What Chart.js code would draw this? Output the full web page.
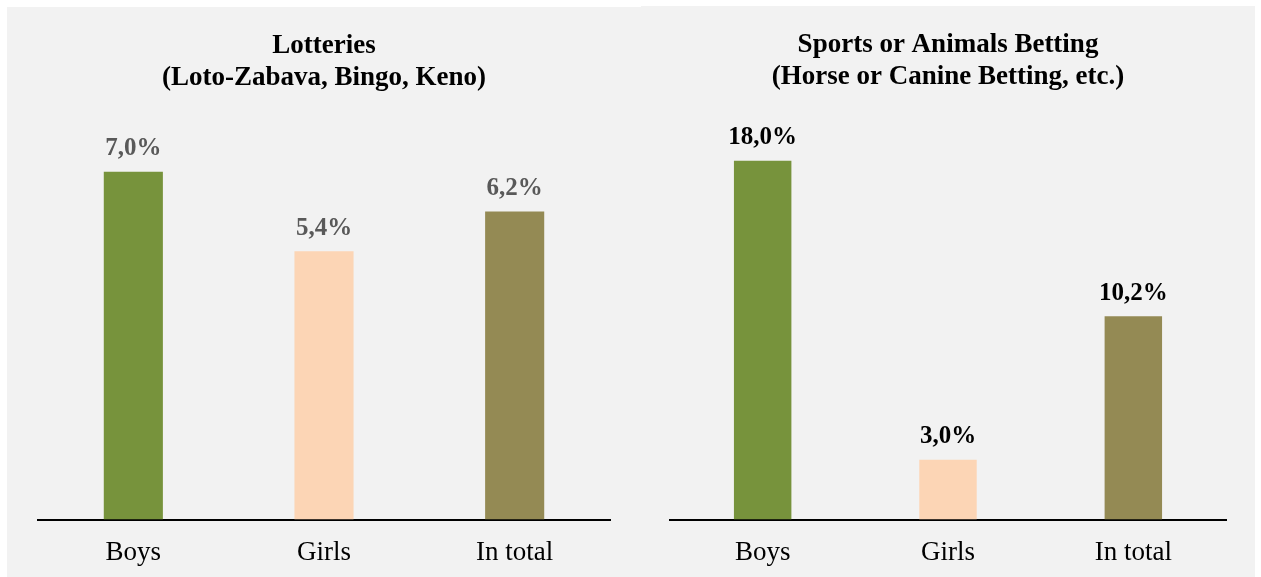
<!DOCTYPE html>
<html>
<head>
<meta charset="utf-8">
<script src="https://cdn.jsdelivr.net/npm/chart.js@4/dist/chart.umd.min.js"></script>
<style>
  body { margin: 0; background: #fff; width: 1261px; height: 577px; position: relative; overflow: hidden; }
  .panel { position: absolute; background: #f2f2f2; overflow: hidden; }
  #p1 { left: 7px; top: 7px; width: 634px; height: 570px; }
  #p2 { left: 641px; top: 6px; width: 614px; height: 571px; }
  canvas { display: block; }
</style>
</head>
<body>
<div class="panel" id="p1"><canvas id="lotteryChart" width="634" height="579"></canvas></div>
<div class="panel" id="p2"><canvas id="bettingChart" width="614" height="580"></canvas></div>
<script>
var categories = ['Boys', 'Girls', 'In total'];
var lotteryValues = [7.0, 5.4, 6.2];
var bettingValues = [18.0, 3.0, 10.2];
var barColors = ['#77933c', '#fcd5b5', '#948a54'];
var serif = '"Liberation Serif", "Times New Roman", serif';

// draws the value above every bar, e.g. "7,0%"
var valueLabels = {
  id: 'valueLabels',
  afterDatasetsDraw: function (chart, args, opts) {
    var ctx = chart.ctx;
    var meta = chart.getDatasetMeta(0);
    var data = chart.data.datasets[0].data;
    ctx.save();
    ctx.font = 'bold 25px ' + serif;
    ctx.fillStyle = opts.color;
    ctx.textAlign = 'center';
    ctx.textBaseline = 'middle';
    meta.data.forEach(function (bar, i) {
      var txt = data[i].toFixed(1).replace('.', ',') + '%';
      ctx.fillText(txt, bar.x, bar.y - 23);
    });
    ctx.restore();
  }
};

function makeChart(id, title, values, yMax, labelColor, pad) {
  return new Chart(document.getElementById(id), {
    type: 'bar',
    data: {
      labels: categories,
      datasets: [{
        data: values,
        backgroundColor: barColors,
        borderWidth: 0,
        categoryPercentage: 1,
        barPercentage: 0.31
      }]
    },
    options: {
      responsive: false,
      animation: false,
      layout: { padding: { left: pad, right: pad, top: 0, bottom: 0 } },
      plugins: {
        legend: { display: false },
        tooltip: { enabled: false },
        title: {
          display: true,
          text: title,
          color: '#000',
          font: { family: serif, size: 27, weight: 'bold', lineHeight: 1.185 },
          padding: { top: 23, bottom: 28 }
        },
        valueLabels: { color: labelColor }
      },
      scales: {
        x: {
          grid: { display: false, drawTicks: false },
          border: { display: true, color: '#000', width: 2 },
          ticks: { color: '#000', padding: 17, font: { family: serif, size: 27 } }
        },
        y: {
          display: false,
          min: 0,
          max: yMax
        }
      }
    },
    plugins: [valueLabels]
  });
}

makeChart('lotteryChart', ['Lotteries', '(Loto-Zabava, Bingo, Keno)'], lotteryValues, 8, '#595959', 31);
makeChart('bettingChart', ['Sports or Animals Betting', '(Horse or Canine Betting, etc.)'], bettingValues, 20, '#000', 29);
</script>
</body>
</html>
